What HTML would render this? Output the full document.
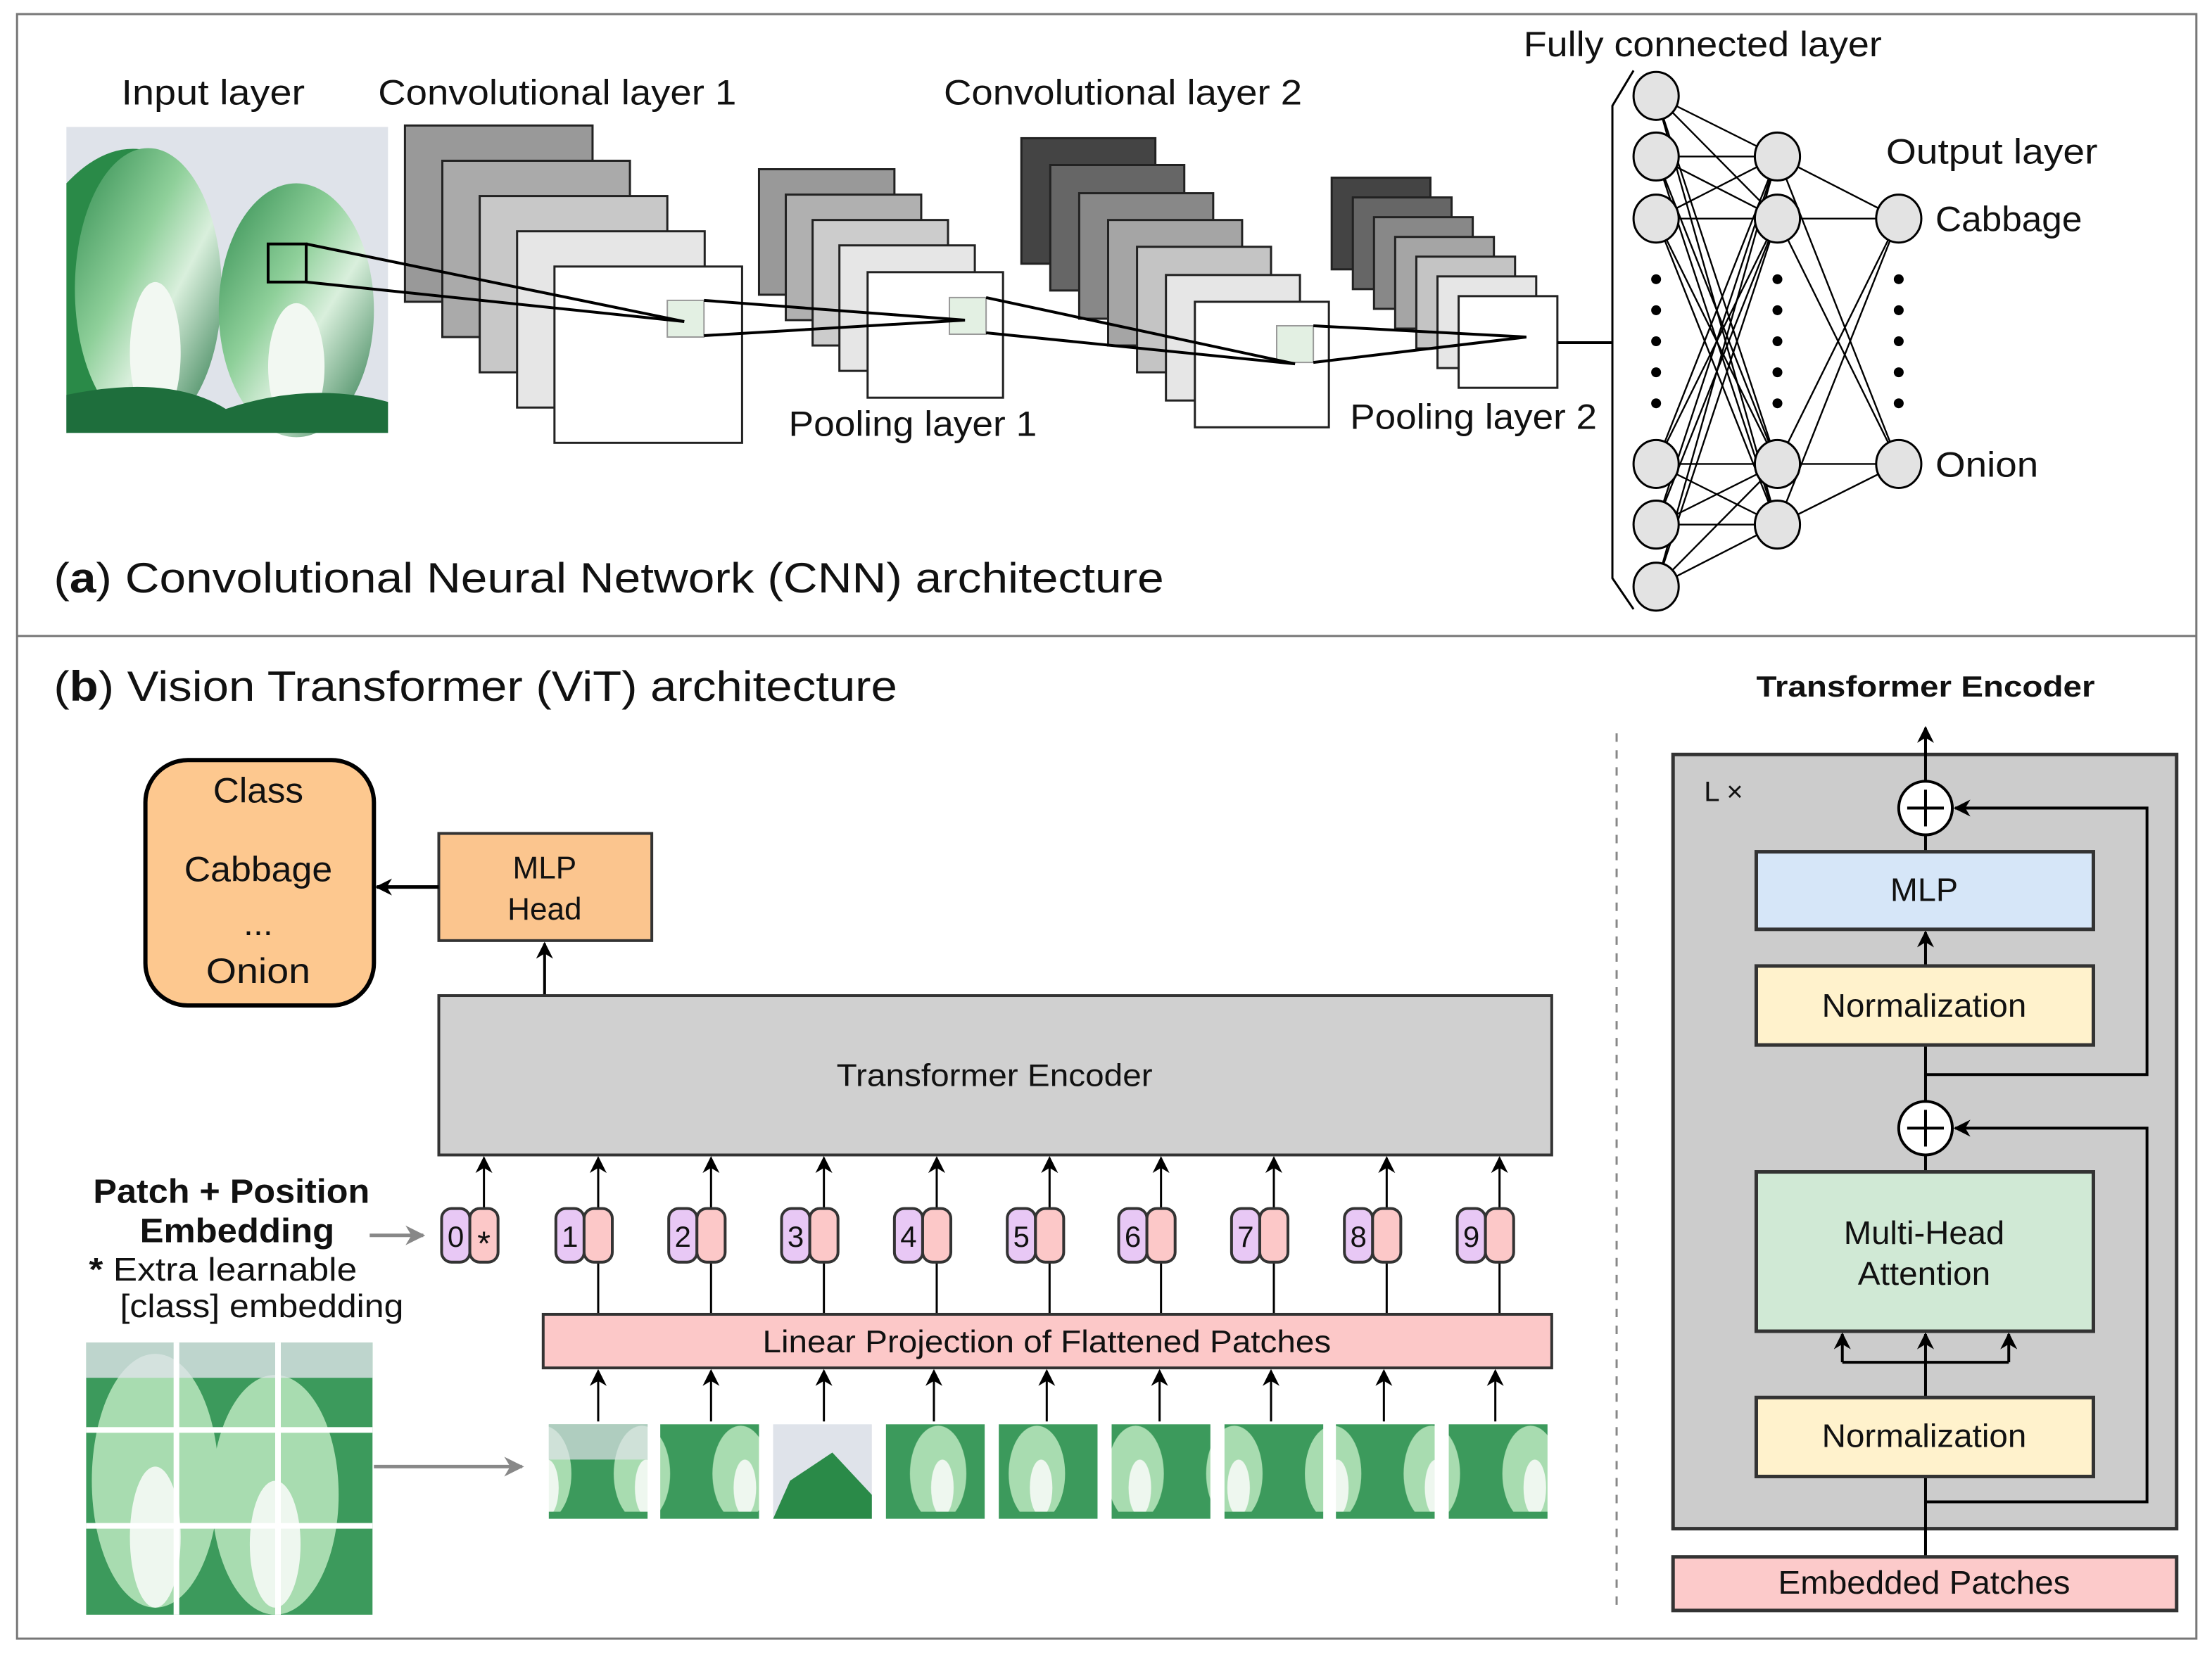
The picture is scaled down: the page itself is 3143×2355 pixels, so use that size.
<!DOCTYPE html>
<html><head><meta charset="utf-8"><style>html,body{margin:0;padding:0;background:#fff}svg{display:block}</style></head><body>
<svg width="3143" height="2355" viewBox="0 0 1568 1175" xmlns="http://www.w3.org/2000/svg" font-family="Liberation Sans, sans-serif">
<defs>
<marker id="ah2" viewBox="0 0 10 10" refX="9" refY="5" markerWidth="12" markerHeight="12" markerUnits="userSpaceOnUse" orient="auto"><path d="M0,0 L10,5 L0,10 L3,5 z" fill="#000"/></marker>
<marker id="ag" viewBox="0 0 10 10" refX="9" refY="5" markerWidth="14" markerHeight="14" markerUnits="userSpaceOnUse" orient="auto"><path d="M0,0 L10,5 L0,10 L3,5 z" fill="#888"/></marker>
<linearGradient id="cab" x1="0" y1="0" x2="1" y2="1"><stop offset="0" stop-color="#2e8a4e"/><stop offset="0.4" stop-color="#8fd09a"/><stop offset="0.6" stop-color="#d9efdc"/><stop offset="1" stop-color="#1f7040"/></linearGradient>
<pattern id="cabp" width="70" height="67" patternUnits="userSpaceOnUse"><rect width="70" height="67" fill="#3c9a5c"/><ellipse cx="35" cy="40" rx="20" ry="34" fill="#a8dcb0"/><ellipse cx="38" cy="50" rx="8" ry="20" fill="#eef7ef"/></pattern>
</defs>
<rect x="0" y="0" width="1568" height="1175" fill="#fff"/>
<rect x="12" y="10" width="1545" height="1152" fill="none" stroke="#777" stroke-width="1.5"/>
<line x1="12" y1="451" x2="1557" y2="451" stroke="#777" stroke-width="1.5"/>

<rect x="47" y="90" width="228" height="217" fill="#dfe3ea"/>
<path d="M47,130 Q80,95 115,110 L130,300 L47,307 z" fill="#2a8a48"/>
<ellipse cx="105" cy="205" rx="52" ry="100" fill="url(#cab)"/>
<ellipse cx="210" cy="220" rx="55" ry="90" fill="url(#cab)"/>
<ellipse cx="110" cy="250" rx="18" ry="50" fill="#f2f8f2"/>
<ellipse cx="210" cy="260" rx="20" ry="45" fill="#f2f8f2"/>
<path d="M47,280 Q120,265 160,290 Q220,270 275,285 L275,307 L47,307 z" fill="#1e6e3c"/>
<rect x="190" y="173" width="27" height="27" fill="none" stroke="#000" stroke-width="2"/>

<g stroke="#222" stroke-width="1.5">
<rect x="287" y="89" width="133" height="125" fill="#999"/>
<rect x="313.5" y="114" width="133" height="125" fill="#aaa"/>
<rect x="340" y="139" width="133" height="125" fill="#c8c8c8"/>
<rect x="366.5" y="164" width="133" height="125" fill="#e6e6e6"/>
<rect x="393" y="189" width="133" height="125" fill="#fff"/>
<rect x="538" y="120" width="96" height="89" fill="#999"/>
<rect x="557" y="138" width="96" height="89" fill="#b0b0b0"/>
<rect x="576" y="156" width="96" height="89" fill="#ccc"/>
<rect x="595" y="174" width="96" height="89" fill="#e6e6e6"/>
<rect x="615" y="193" width="96" height="89" fill="#fff"/>
<rect x="724" y="98" width="95" height="89" fill="#444"/>
<rect x="744.5" y="117" width="95" height="89" fill="#666"/>
<rect x="765" y="137" width="95" height="89" fill="#888"/>
<rect x="785.5" y="156" width="95" height="89" fill="#a5a5a5"/>
<rect x="806" y="175" width="95" height="89" fill="#c4c4c4"/>
<rect x="826.5" y="195" width="95" height="89" fill="#e6e6e6"/>
<rect x="847" y="214" width="95" height="89" fill="#fff"/>
<rect x="944" y="126" width="70" height="65" fill="#444"/>
<rect x="959" y="140" width="70" height="65" fill="#666"/>
<rect x="974" y="154" width="70" height="65" fill="#888"/>
<rect x="989" y="168" width="70" height="65" fill="#a5a5a5"/>
<rect x="1004" y="182" width="70" height="65" fill="#c4c4c4"/>
<rect x="1019" y="196" width="70" height="65" fill="#e6e6e6"/>
<rect x="1034" y="210" width="70" height="65" fill="#fff"/>
</g>
<g fill="#e3f0e3" stroke="#999" stroke-width="1"><rect x="473" y="213" width="26" height="26"/><rect x="673" y="211" width="26" height="26"/><rect x="905" y="231" width="26" height="26"/></g>
<g stroke="#000" stroke-width="2" fill="none">
<polyline points="217,173 485,228 217,200"/>
<polyline points="499,213 684,227 499,238"/>
<polyline points="699,211 918,258 699,236"/>
<polyline points="931,231 1082,239 931,257"/>
<line x1="1104" y1="243" x2="1143" y2="243"/>
<polyline points="1158,50 1143,75 1143,410 1158,432" stroke-width="1.5"/>
</g>
<g stroke="#000" stroke-width="1.2">
<line x1="1174" y1="68" x2="1260" y2="111"/><line x1="1174" y1="68" x2="1260" y2="155"/><line x1="1174" y1="68" x2="1260" y2="329"/><line x1="1174" y1="68" x2="1260" y2="372"/>
<line x1="1174" y1="111" x2="1260" y2="111"/><line x1="1174" y1="111" x2="1260" y2="155"/><line x1="1174" y1="111" x2="1260" y2="329"/><line x1="1174" y1="111" x2="1260" y2="372"/>
<line x1="1174" y1="155" x2="1260" y2="111"/><line x1="1174" y1="155" x2="1260" y2="155"/><line x1="1174" y1="155" x2="1260" y2="329"/><line x1="1174" y1="155" x2="1260" y2="372"/>
<line x1="1174" y1="329" x2="1260" y2="111"/><line x1="1174" y1="329" x2="1260" y2="155"/><line x1="1174" y1="329" x2="1260" y2="329"/><line x1="1174" y1="329" x2="1260" y2="372"/>
<line x1="1174" y1="372" x2="1260" y2="111"/><line x1="1174" y1="372" x2="1260" y2="155"/><line x1="1174" y1="372" x2="1260" y2="329"/><line x1="1174" y1="372" x2="1260" y2="372"/>
<line x1="1174" y1="416" x2="1260" y2="111"/><line x1="1174" y1="416" x2="1260" y2="155"/><line x1="1174" y1="416" x2="1260" y2="329"/><line x1="1174" y1="416" x2="1260" y2="372"/>
<line x1="1260" y1="111" x2="1346" y2="155"/><line x1="1260" y1="111" x2="1346" y2="329"/>
<line x1="1260" y1="155" x2="1346" y2="155"/><line x1="1260" y1="155" x2="1346" y2="329"/>
<line x1="1260" y1="329" x2="1346" y2="155"/><line x1="1260" y1="329" x2="1346" y2="329"/>
<line x1="1260" y1="372" x2="1346" y2="155"/><line x1="1260" y1="372" x2="1346" y2="329"/>
</g>
<g fill="#e3e3e3" stroke="#000" stroke-width="1.5">
<ellipse cx="1174" cy="68" rx="16" ry="17"/><ellipse cx="1174" cy="111" rx="16" ry="17"/><ellipse cx="1174" cy="155" rx="16" ry="17"/><ellipse cx="1174" cy="329" rx="16" ry="17"/><ellipse cx="1174" cy="372" rx="16" ry="17"/><ellipse cx="1174" cy="416" rx="16" ry="17"/>
<ellipse cx="1260" cy="111" rx="16" ry="17"/><ellipse cx="1260" cy="155" rx="16" ry="17"/><ellipse cx="1260" cy="329" rx="16" ry="17"/><ellipse cx="1260" cy="372" rx="16" ry="17"/>
<ellipse cx="1346" cy="155" rx="16" ry="17"/><ellipse cx="1346" cy="329" rx="16" ry="17"/>
</g>
<g fill="#000">
<circle cx="1174" cy="198" r="3.5"/><circle cx="1174" cy="220" r="3.5"/><circle cx="1174" cy="242" r="3.5"/><circle cx="1174" cy="264" r="3.5"/><circle cx="1174" cy="286" r="3.5"/>
<circle cx="1260" cy="198" r="3.5"/><circle cx="1260" cy="220" r="3.5"/><circle cx="1260" cy="242" r="3.5"/><circle cx="1260" cy="264" r="3.5"/><circle cx="1260" cy="286" r="3.5"/>
<circle cx="1346" cy="198" r="3.5"/><circle cx="1346" cy="220" r="3.5"/><circle cx="1346" cy="242" r="3.5"/><circle cx="1346" cy="264" r="3.5"/><circle cx="1346" cy="286" r="3.5"/>
</g>
<g font-size="25" fill="#111">
<text x="86" y="74" textLength="130" lengthAdjust="spacingAndGlyphs">Input layer</text>
<text x="268" y="74" textLength="254" lengthAdjust="spacingAndGlyphs">Convolutional layer 1</text>
<text x="669" y="74" textLength="254" lengthAdjust="spacingAndGlyphs">Convolutional layer 2</text>
<text x="1080" y="40" textLength="254" lengthAdjust="spacingAndGlyphs">Fully connected layer</text>
<text x="1337" y="116" textLength="150" lengthAdjust="spacingAndGlyphs">Output layer</text>
<text x="1372" y="164" textLength="104" lengthAdjust="spacingAndGlyphs">Cabbage</text>
<text x="1372" y="338" textLength="73" lengthAdjust="spacingAndGlyphs">Onion</text>
<text x="559" y="309" textLength="176" lengthAdjust="spacingAndGlyphs">Pooling layer 1</text>
<text x="957" y="304" textLength="175" lengthAdjust="spacingAndGlyphs">Pooling layer 2</text>
</g>
<text x="38" y="420" font-size="30" fill="#111" textLength="787" lengthAdjust="spacingAndGlyphs">(<tspan font-weight="bold">a</tspan>) Convolutional Neural Network (CNN) architecture</text>
<text x="38" y="497" font-size="30" fill="#111" textLength="598" lengthAdjust="spacingAndGlyphs">(<tspan font-weight="bold">b</tspan>) Vision Transformer (ViT) architecture</text>

<rect x="103" y="539" width="162" height="174" rx="30" fill="#fdc88f" stroke="#000" stroke-width="3"/>
<g font-size="25" text-anchor="middle" fill="#111"><text x="183" y="569" textLength="64" lengthAdjust="spacingAndGlyphs">Class</text><text x="183" y="625" textLength="105" lengthAdjust="spacingAndGlyphs">Cabbage</text><text x="183" y="663">...</text><text x="183" y="697" textLength="74" lengthAdjust="spacingAndGlyphs">Onion</text></g>
<rect x="311" y="591" width="151" height="76" fill="#fbc58e" stroke="#333" stroke-width="2"/>
<g font-size="22" text-anchor="middle" fill="#111"><text x="386" y="623">MLP</text><text x="386" y="652">Head</text></g>
<line x1="311" y1="629" x2="267" y2="629" stroke="#000" stroke-width="2.5" marker-end="url(#ah2)"/>
<line x1="386" y1="706" x2="386" y2="669" stroke="#000" stroke-width="2" marker-end="url(#ah2)"/>
<rect x="311" y="706" width="789" height="113" fill="#d0d0d0" stroke="#333" stroke-width="2"/>
<text x="705" y="770" font-size="22" text-anchor="middle" fill="#111" textLength="224" lengthAdjust="spacingAndGlyphs">Transformer Encoder</text>

<g stroke="#000" stroke-width="1.5">
<line x1="343" y1="857" x2="343" y2="821" marker-end="url(#ah2)"/>
<line x1="424" y1="932" x2="424" y2="821" marker-end="url(#ah2)"/>
<line x1="504" y1="932" x2="504" y2="821" marker-end="url(#ah2)"/>
<line x1="584" y1="932" x2="584" y2="821" marker-end="url(#ah2)"/>
<line x1="664" y1="932" x2="664" y2="821" marker-end="url(#ah2)"/>
<line x1="744" y1="932" x2="744" y2="821" marker-end="url(#ah2)"/>
<line x1="823" y1="932" x2="823" y2="821" marker-end="url(#ah2)"/>
<line x1="903" y1="932" x2="903" y2="821" marker-end="url(#ah2)"/>
<line x1="983" y1="932" x2="983" y2="821" marker-end="url(#ah2)"/>
<line x1="1063" y1="932" x2="1063" y2="821" marker-end="url(#ah2)"/>
</g>
<g stroke="#333" stroke-width="2">
<rect x="313" y="857" width="20" height="38" rx="7" fill="#e8c8f5"/><rect x="333" y="857" width="20" height="38" rx="7" fill="#fcc8c8"/>
<rect x="394" y="857" width="20" height="38" rx="7" fill="#e8c8f5"/><rect x="414" y="857" width="20" height="38" rx="7" fill="#fcc8c8"/>
<rect x="474" y="857" width="20" height="38" rx="7" fill="#e8c8f5"/><rect x="494" y="857" width="20" height="38" rx="7" fill="#fcc8c8"/>
<rect x="554" y="857" width="20" height="38" rx="7" fill="#e8c8f5"/><rect x="574" y="857" width="20" height="38" rx="7" fill="#fcc8c8"/>
<rect x="634" y="857" width="20" height="38" rx="7" fill="#e8c8f5"/><rect x="654" y="857" width="20" height="38" rx="7" fill="#fcc8c8"/>
<rect x="714" y="857" width="20" height="38" rx="7" fill="#e8c8f5"/><rect x="734" y="857" width="20" height="38" rx="7" fill="#fcc8c8"/>
<rect x="793" y="857" width="20" height="38" rx="7" fill="#e8c8f5"/><rect x="813" y="857" width="20" height="38" rx="7" fill="#fcc8c8"/>
<rect x="873" y="857" width="20" height="38" rx="7" fill="#e8c8f5"/><rect x="893" y="857" width="20" height="38" rx="7" fill="#fcc8c8"/>
<rect x="953" y="857" width="20" height="38" rx="7" fill="#e8c8f5"/><rect x="973" y="857" width="20" height="38" rx="7" fill="#fcc8c8"/>
<rect x="1033" y="857" width="20" height="38" rx="7" fill="#e8c8f5"/><rect x="1053" y="857" width="20" height="38" rx="7" fill="#fcc8c8"/>
</g>
<g font-size="21" text-anchor="middle" fill="#111">
<text x="323" y="884">0</text><text x="343" y="890" font-size="24">*</text>
<text x="404" y="884">1</text><text x="484" y="884">2</text><text x="564" y="884">3</text><text x="644" y="884">4</text><text x="724" y="884">5</text><text x="803" y="884">6</text><text x="883" y="884">7</text><text x="963" y="884">8</text><text x="1043" y="884">9</text>
</g>
<rect x="385" y="932" width="715" height="38" fill="#fcc8c8" stroke="#333" stroke-width="2"/>
<text x="742" y="959" font-size="22" text-anchor="middle" fill="#111" textLength="403" lengthAdjust="spacingAndGlyphs">Linear Projection of Flattened Patches</text>
<g stroke="#000" stroke-width="1.5">
<line x1="424" y1="1008" x2="424" y2="972" marker-end="url(#ah2)"/><line x1="504" y1="1008" x2="504" y2="972" marker-end="url(#ah2)"/><line x1="584" y1="1008" x2="584" y2="972" marker-end="url(#ah2)"/><line x1="662" y1="1008" x2="662" y2="972" marker-end="url(#ah2)"/><line x1="742" y1="1008" x2="742" y2="972" marker-end="url(#ah2)"/><line x1="822" y1="1008" x2="822" y2="972" marker-end="url(#ah2)"/><line x1="901" y1="1008" x2="901" y2="972" marker-end="url(#ah2)"/><line x1="981" y1="1008" x2="981" y2="972" marker-end="url(#ah2)"/><line x1="1060" y1="1008" x2="1060" y2="972" marker-end="url(#ah2)"/>
</g>
<g>
<rect x="389" y="1010" width="70" height="67" fill="url(#cabp)"/><rect x="468" y="1010" width="70" height="67" fill="url(#cabp)"/><rect x="548" y="1010" width="70" height="67" fill="#dfe3ea"/><path d="M548,1077 L560,1050 L590,1030 L618,1060 L618,1077z" fill="#2a8a48"/>
<rect x="628" y="1010" width="70" height="67" fill="url(#cabp)"/><rect x="708" y="1010" width="70" height="67" fill="url(#cabp)"/><rect x="788" y="1010" width="70" height="67" fill="url(#cabp)"/>
<rect x="868" y="1010" width="70" height="67" fill="url(#cabp)"/><rect x="947" y="1010" width="70" height="67" fill="url(#cabp)"/><rect x="1027" y="1010" width="70" height="67" fill="url(#cabp)"/>
<rect x="389" y="1010" width="70" height="25" fill="#dfe3ea" opacity="0.7"/>
</g>
<rect x="61" y="952" width="203" height="193" fill="#3c9a5c"/>
<ellipse cx="110" cy="1050" rx="45" ry="90" fill="#a8dcb0"/><ellipse cx="195" cy="1060" rx="45" ry="85" fill="#a8dcb0"/>
<ellipse cx="110" cy="1090" rx="18" ry="50" fill="#eef7ef"/><ellipse cx="195" cy="1095" rx="18" ry="45" fill="#eef7ef"/>
<rect x="61" y="952" width="203" height="25" fill="#dfe3ea" opacity="0.8"/>
<g fill="#fff"><rect x="123" y="952" width="4" height="193"/><rect x="195" y="952" width="4" height="193"/><rect x="61" y="1012" width="203" height="4"/><rect x="61" y="1080" width="203" height="4"/></g>
<line x1="265" y1="1040" x2="370" y2="1040" stroke="#888" stroke-width="2.5" marker-end="url(#ag)"/>
<line x1="262" y1="876" x2="300" y2="876" stroke="#888" stroke-width="2.5" marker-end="url(#ag)"/>
<g font-size="24" font-weight="bold" text-anchor="middle" fill="#111"><text x="164" y="853" textLength="196" lengthAdjust="spacingAndGlyphs">Patch + Position</text><text x="168" y="881" textLength="138" lengthAdjust="spacingAndGlyphs">Embedding</text></g>
<g font-size="23" fill="#111"><text x="63" y="908" textLength="190" lengthAdjust="spacingAndGlyphs"><tspan font-weight="bold">*</tspan> Extra learnable</text><text x="85" y="934" textLength="201" lengthAdjust="spacingAndGlyphs">[class] embedding</text></g>

<line x1="1146" y1="520" x2="1146" y2="1140" stroke="#888" stroke-width="1.5" stroke-dasharray="6,6"/>
<text x="1365" y="494" font-size="21" font-weight="bold" text-anchor="middle" fill="#111" textLength="240" lengthAdjust="spacingAndGlyphs">Transformer Encoder</text>
<rect x="1186" y="535" width="357" height="549" fill="#cccccc" stroke="#333" stroke-width="2.5"/>
<text x="1208" y="568" font-size="20" fill="#111">L  ×</text>
<g stroke="#000" stroke-width="2" fill="none">
<line x1="1365" y1="1104" x2="1365" y2="1047"/>
<polyline points="1365,1065 1522,1065 1522,800 1386,800" marker-end="url(#ah2)"/>
<line x1="1365" y1="991" x2="1365" y2="946" marker-end="url(#ah2)"/>
<polyline points="1306,966 1424,966"/>
<line x1="1306" y1="966" x2="1306" y2="946" marker-end="url(#ah2)"/>
<line x1="1424" y1="966" x2="1424" y2="946" marker-end="url(#ah2)"/>
<line x1="1365" y1="831" x2="1365" y2="819"/>
<line x1="1365" y1="781" x2="1365" y2="741"/>
<polyline points="1365,762 1522,762 1522,573 1386,573" marker-end="url(#ah2)"/>
<line x1="1365" y1="685" x2="1365" y2="661" marker-end="url(#ah2)"/>
<line x1="1365" y1="604" x2="1365" y2="592"/>
<line x1="1365" y1="554" x2="1365" y2="516" marker-end="url(#ah2)"/>
</g>
<g fill="#fff" stroke="#000" stroke-width="2">
<circle cx="1365" cy="573" r="19"/><circle cx="1365" cy="800" r="19"/>
</g>
<g stroke="#000" stroke-width="2"><line x1="1352" y1="573" x2="1378" y2="573"/><line x1="1365" y1="560" x2="1365" y2="586"/><line x1="1352" y1="800" x2="1378" y2="800"/><line x1="1365" y1="787" x2="1365" y2="813"/></g>
<g stroke="#333" stroke-width="2.5">
<rect x="1245" y="604" width="239" height="55" fill="#d6e6f8"/>
<rect x="1245" y="685" width="239" height="56" fill="#fff2cc"/>
<rect x="1245" y="831" width="239" height="113" fill="#d0e9d5"/>
<rect x="1245" y="991" width="239" height="56" fill="#fff2cc"/>
<rect x="1186" y="1104" width="357" height="38" fill="#fccaca"/>
</g>
<g font-size="23" text-anchor="middle" fill="#111">
<text x="1364" y="639" textLength="48" lengthAdjust="spacingAndGlyphs">MLP</text>
<text x="1364" y="721" textLength="145" lengthAdjust="spacingAndGlyphs">Normalization</text>
<text x="1364" y="882" textLength="114" lengthAdjust="spacingAndGlyphs">Multi-Head</text><text x="1364" y="911" textLength="94" lengthAdjust="spacingAndGlyphs">Attention</text>
<text x="1364" y="1026" textLength="145" lengthAdjust="spacingAndGlyphs">Normalization</text>
<text x="1364" y="1130" textLength="207" lengthAdjust="spacingAndGlyphs">Embedded Patches</text>
</g>
</svg>
</body></html>
